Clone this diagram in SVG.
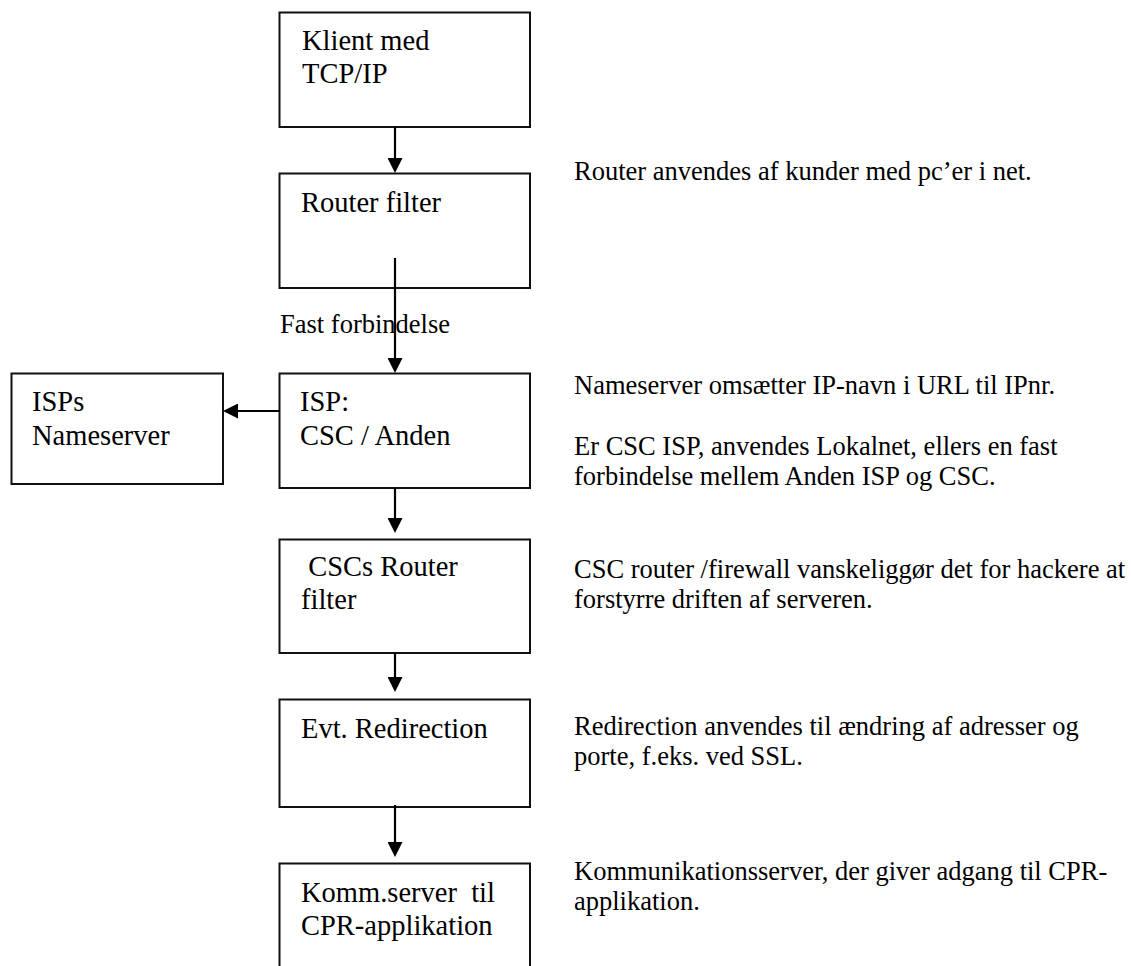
<svg xmlns="http://www.w3.org/2000/svg" width="1131" height="966" viewBox="0 0 1131 966">
<style>
.box{fill:#fff;stroke:#111;stroke-width:2}
.t{font-family:"Liberation Serif","Times New Roman",serif;font-size:28.5px;fill:#000;white-space:pre}
.r{font-family:"Liberation Serif","Times New Roman",serif;font-size:26.5px;fill:#000;white-space:pre}
.c{stroke:#000;stroke-width:2.2;fill:none}
</style>
<defs>
<marker id="ah" markerWidth="15" markerHeight="15" refX="0" refY="7.5" orient="auto" markerUnits="userSpaceOnUse">
<path d="M0,0 L15,7.5 L0,15 z" fill="#000"/>
</marker>
</defs>
<rect width="1131" height="966" fill="#fff"/>
<g id="n-klient"><rect class="box" x="279.5" y="12.5" width="250.5" height="114.5"/><text class="t" x="302" y="50">Klient med</text><text class="t" x="302" y="83">TCP/IP</text></g>
<g id="n-router"><rect class="box" x="279.5" y="173.5" width="250.5" height="114.5"/><text class="t" x="301" y="212">Router filter</text></g>
<g id="n-isp"><rect class="box" x="279.5" y="373.5" width="250.5" height="114.5"/><text class="t" x="300" y="411">ISP:</text><text class="t" x="300" y="445">CSC / Anden</text></g>
<g id="n-nameserver"><rect class="box" x="11.5" y="373.5" width="211.5" height="110.5"/><text class="t" x="32" y="411">ISPs</text><text class="t" x="32" y="445">Nameserver</text></g>
<g id="n-csc"><rect class="box" x="279.5" y="539.5" width="250.5" height="113.5"/><text class="t" x="301" y="576"> CSCs Router</text><text class="t" x="301" y="609">filter</text></g>
<g id="n-redir"><rect class="box" x="279.5" y="699.5" width="250.5" height="107.5"/><text class="t" x="301" y="738">Evt. Redirection</text></g>
<g id="n-komm"><rect class="box" x="279.5" y="863.5" width="250.5" height="120"/><text class="t" x="301" y="902">Komm.server  til</text><text class="t" x="301" y="935">CPR-applikation</text></g>
<g id="connectors">
<line class="c" x1="395" y1="127" x2="395" y2="158" marker-end="url(#ah)"/>
<line class="c" x1="395" y1="258" x2="395" y2="358" marker-end="url(#ah)"/>
<line class="c" x1="280" y1="411" x2="238" y2="411" marker-end="url(#ah)"/>
<line class="c" x1="395" y1="488" x2="395" y2="518" marker-end="url(#ah)"/>
<line class="c" x1="395" y1="653" x2="395" y2="677" marker-end="url(#ah)"/>
<line class="c" x1="395" y1="805" x2="395" y2="842" marker-end="url(#ah)"/>
<text class="r" x="280" y="333">Fast forbindelse</text>
</g>
<g id="notes">
<text class="r" x="574" y="180">Router anvendes af kunder med pc’er i net.</text>
<text class="r" x="574" y="394">Nameserver omsætter IP-navn i URL til IPnr.</text>
<text class="r" x="574" y="455">Er CSC ISP, anvendes Lokalnet, ellers en fast</text>
<text class="r" x="574" y="485">forbindelse mellem Anden ISP og CSC.</text>
<text class="r" x="574" y="578">CSC router /firewall vanskeliggør det for hackere at</text>
<text class="r" x="574" y="608">forstyrre driften af serveren.</text>
<text class="r" x="574" y="735">Redirection anvendes til ændring af adresser og</text>
<text class="r" x="574" y="765">porte, f.eks. ved SSL.</text>
<text class="r" x="574" y="880">Kommunikationsserver, der giver adgang til CPR-</text>
<text class="r" x="574" y="910">applikation.</text>
</g>
</svg>
